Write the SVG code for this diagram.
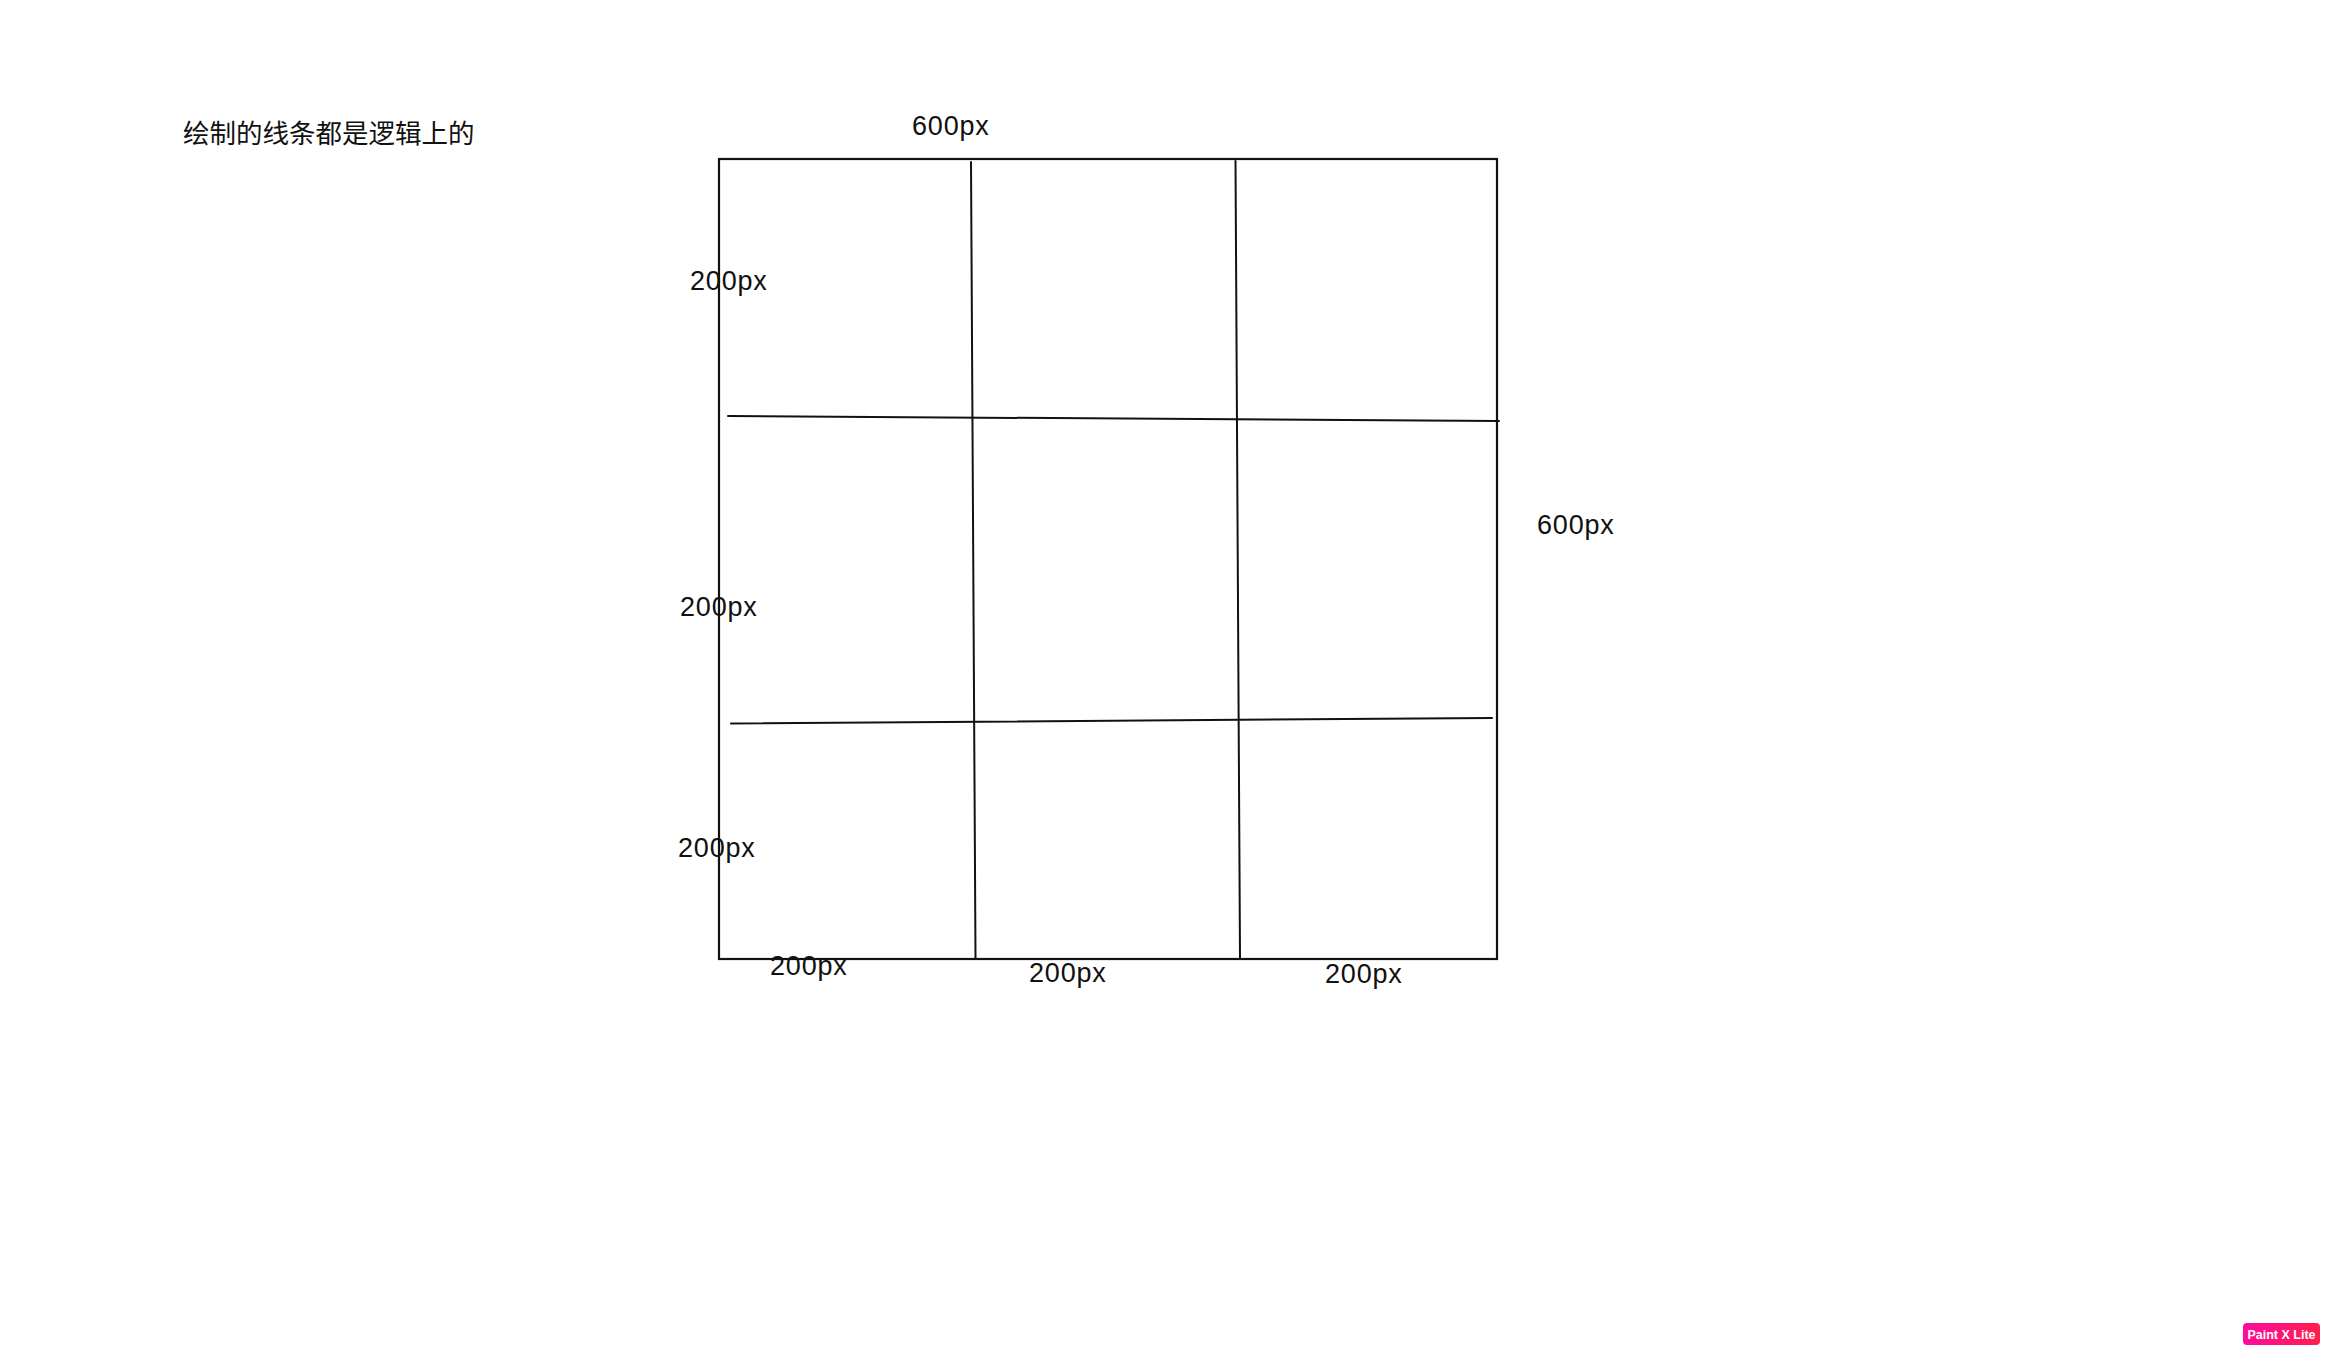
<svg xmlns="http://www.w3.org/2000/svg" width="2332" height="1356" viewBox="0 0 2332 1356">
<defs>
<style>
.t{font-family:"Liberation Sans",Arial,"Noto Sans CJK SC",sans-serif;font-size:27px;fill:#111;letter-spacing:0.8px}
.cn{font-family:"Noto Sans CJK SC","Liberation Sans",sans-serif;font-size:26.5px;fill:#111}
.ln{stroke:#111;stroke-width:2;fill:none;stroke-linecap:round}
.box{stroke:#111;stroke-width:2.2;fill:none}
</style>
<linearGradient id="pg" x1="0" y1="0" x2="1" y2="0">
<stop offset="0" stop-color="#ff0aa0"/>
<stop offset="1" stop-color="#ff1f4b"/>
</linearGradient>
</defs>
<rect width="2332" height="1356" fill="#fff"/>
<text class="cn" x="183" y="143">绘制的线条都是逻辑上的</text>
<g id="canvas">
<rect class="box" x="719" y="159" width="778" height="800"/>
</g>
<g id="connectors">
<line class="ln" x1="971" y1="162" x2="975.5" y2="958"/>
<line class="ln" x1="1235.5" y1="161" x2="1240" y2="958"/>
<line class="ln" x1="728" y1="416" x2="1499" y2="421"/>
<line class="ln" x1="731" y1="723.5" x2="1492" y2="718"/>
</g>
<g id="labels">
<text class="t" x="912" y="135">600px</text>
<text class="t" x="1537" y="534">600px</text>
<text class="t" x="690" y="290">200px</text>
<text class="t" x="680" y="616">200px</text>
<text class="t" x="678" y="857">200px</text>
<text class="t" x="770" y="975">200px</text>
<text class="t" x="1029" y="982">200px</text>
<text class="t" x="1325" y="983">200px</text>
</g>
<g id="badge">
<rect x="2243" y="1323" width="77" height="22" rx="4" fill="url(#pg)"/>
<text x="2281.5" y="1338.5" text-anchor="middle" font-family="'Liberation Sans',Arial,sans-serif" font-size="12.5" font-weight="bold" fill="#fff">Paint X Lite</text>
</g>
</svg>
